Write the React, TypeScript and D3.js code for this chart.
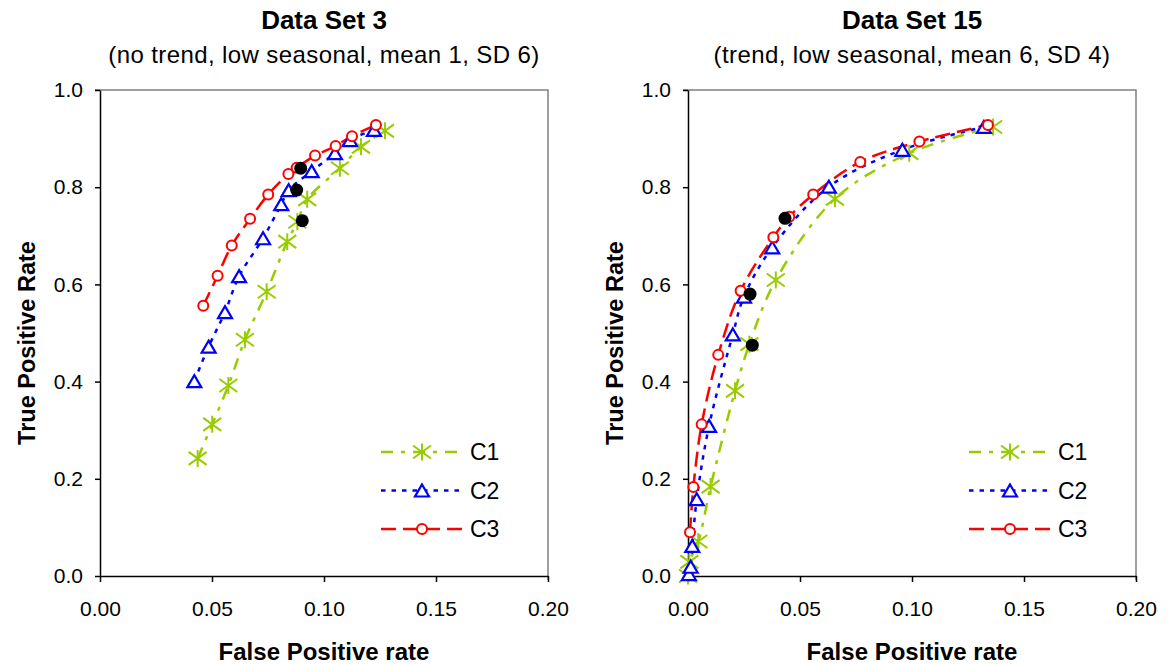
import { useEffect, useRef } from 'react'
import * as d3 from 'd3'

// ROC curves (false positive rate vs true positive rate), two data sets, three classifiers
const X_TICKS = [0, 0.05, 0.1, 0.15, 0.2]
const Y_TICKS = [0, 0.2, 0.4, 0.6, 0.8, 1.0]
const SERIES_NAMES = ['C1', 'C2', 'C3']

type Pt = [number, number]

// Data Set 3
const DS3_C1: Pt[] = [
  [0.0436, 0.242], [0.0501, 0.312], [0.0573, 0.392], [0.0647, 0.486], [0.0744, 0.585],
  [0.0836, 0.688], [0.0881, 0.729], [0.0925, 0.775], [0.1071, 0.839], [0.1165, 0.883], [0.1272, 0.916],
]
const DS3_C2: Pt[] = [
  [0.0421, 0.401], [0.0485, 0.472], [0.0558, 0.543], [0.0621, 0.617], [0.0728, 0.695],
  [0.0809, 0.765], [0.0842, 0.794], [0.0945, 0.833], [0.1049, 0.870], [0.1116, 0.897], [0.1223, 0.918],
]
const DS3_C3: Pt[] = [
  [0.0461, 0.556], [0.0525, 0.618], [0.0588, 0.680], [0.0670, 0.735], [0.0751, 0.785],
  [0.0841, 0.827], [0.0878, 0.840], [0.0960, 0.865], [0.1052, 0.885], [0.1125, 0.905], [0.1232, 0.928],
]
const DS3_BEST: Pt[] = [[0.0896, 0.839], [0.0878, 0.794], [0.0903, 0.731]]

// Data Set 15
const DS15_C1: Pt[] = [
  [0.0, 0.0], [0.0006, 0.029], [0.0046, 0.071], [0.0101, 0.184], [0.0210, 0.381],
  [0.0274, 0.477], [0.0392, 0.609], [0.0656, 0.776], [0.0988, 0.870], [0.1362, 0.924],
]
const DS15_C2: Pt[] = [
  [0.0004, 0.004], [0.0012, 0.019], [0.0019, 0.062], [0.0039, 0.158], [0.0094, 0.309],
  [0.0200, 0.497], [0.0250, 0.575], [0.0376, 0.676], [0.0629, 0.801], [0.0957, 0.877], [0.1321, 0.924],
]
const DS15_C3: Pt[] = [
  [0.0009, 0.090], [0.0024, 0.183], [0.0061, 0.312], [0.0135, 0.455], [0.0235, 0.587],
  [0.0381, 0.697], [0.0452, 0.739], [0.0559, 0.785], [0.0769, 0.852], [0.1033, 0.894], [0.1339, 0.928],
]
const DS15_BEST: Pt[] = [[0.0287, 0.475], [0.0277, 0.580], [0.0433, 0.736]]

const PANELS = [
  {
    title: 'Data Set 3',
    subtitle: '(no trend, low seasonal, mean 1, SD 6)',
    series: [DS3_C1, DS3_C2, DS3_C3],
    best: DS3_BEST,
    left: 100,
  },
  {
    title: 'Data Set 15',
    subtitle: '(trend, low seasonal, mean 6, SD 4)',
    series: [DS15_C1, DS15_C2, DS15_C3],
    best: DS15_BEST,
    left: 688,
  },
]

const STYLES = [
  { color: '#99cc00', dash: '12,8,4,8', marker: 'star' },
  { color: '#0000ff', dash: '4.5,6', marker: 'tri' },
  { color: '#ff0000', dash: '15,7', marker: 'circle' },
]

const FONT = 'Arial, "Liberation Sans", Helvetica, sans-serif'
const W = 1168, H = 664
const TOP = 90, BOTTOM = 576, PW = 448

function drawMarker(g: any, kind: string, color: string, cx: number, cy: number) {
  if (kind === 'star') {
    g.append('path')
      .attr('d', `M${cx},${cy - 8.5}V${cy + 8.5}M${cx - 9},${cy - 6.5}L${cx + 9},${cy + 6.5}M${cx - 9},${cy + 6.5}L${cx + 9},${cy - 6.5}`)
      .attr('stroke', color).attr('stroke-width', 2).attr('fill', 'none')
  } else if (kind === 'tri') {
    g.append('path')
      .attr('d', `M${cx},${cy - 6}L${cx + 7},${cy + 6}L${cx - 7},${cy + 6}Z`)
      .attr('stroke', color).attr('stroke-width', 2.2).attr('fill', '#fff')
  } else {
    g.append('circle').attr('cx', cx).attr('cy', cy).attr('r', 5)
      .attr('stroke', color).attr('stroke-width', 2).attr('fill', '#fff')
  }
}

export default function App() {
  const ref = useRef<SVGSVGElement>(null)

  useEffect(() => {
    const svg = d3.select(ref.current)
    svg.selectAll('*').remove()

    PANELS.forEach(p => {
      const x = d3.scaleLinear().domain([0, 0.2]).range([p.left, p.left + PW])
      const y = d3.scaleLinear().domain([0, 1]).range([BOTTOM, TOP])
      const cx = p.left + PW / 2
      const g = svg.append('g')

      g.append('text').attr('x', cx).attr('y', 29).attr('text-anchor', 'middle')
        .attr('font-family', FONT).attr('font-weight', 700).attr('font-size', 26).text(p.title)
      g.append('text').attr('x', cx).attr('y', 63).attr('text-anchor', 'middle')
        .attr('font-family', FONT).attr('font-size', 24).attr('letter-spacing', 0.4).text(p.subtitle)

      // gray frame on top / right
      g.append('path')
        .attr('d', `M${p.left - 5},${TOP}H${p.left + PW}V${BOTTOM + 4}`)
        .attr('stroke', '#808080').attr('stroke-width', 1.5).attr('fill', 'none')

      const styleAxis = (s: any) => {
        s.selectAll('text').attr('font-family', FONT).attr('font-size', 21).attr('fill', '#000')
        s.selectAll('line,path').attr('stroke', '#000').attr('stroke-width', 1.5)
      }
      g.append('g').attr('transform', `translate(0,${BOTTOM})`)
        .call(d3.axisBottom(x).tickValues(X_TICKS).tickFormat(d3.format('.2f')).tickSize(6).tickPadding(19).tickSizeOuter(0))
        .call(styleAxis)
      g.append('g').attr('transform', `translate(${p.left},0)`)
        .call(d3.axisLeft(y).tickValues(Y_TICKS).tickFormat(d3.format('.1f')).tickSize(5).tickPadding(12).tickSizeOuter(0))
        .call(styleAxis)

      g.append('text').attr('x', cx).attr('y', 660).attr('text-anchor', 'middle')
        .attr('font-family', FONT).attr('font-weight', 700).attr('font-size', 24).text('False Positive rate')
      g.append('text').attr('transform', `translate(${p.left - 65},${(TOP + BOTTOM) / 2 + 10}) rotate(-90)`)
        .attr('text-anchor', 'middle')
        .attr('font-family', FONT).attr('font-weight', 700).attr('font-size', 23.5).text('True Positive Rate')

      const line = d3.line<Pt>().x(d => x(d[0])).y(d => y(d[1])).curve(d3.curveCatmullRom.alpha(0.5))

      p.series.forEach((data, si) => {
        const st = STYLES[si]
        g.append('path').datum(data).attr('d', line)
          .attr('fill', 'none').attr('stroke', st.color).attr('stroke-width', 2.5)
          .attr('stroke-dasharray', st.dash)
      })
      p.series.forEach((data, si) => {
        const st = STYLES[si]
        data.forEach(d => drawMarker(g, st.marker, st.color, x(d[0]), y(d[1])))
      })
      p.best.forEach(d => {
        g.append('circle').attr('cx', x(d[0])).attr('cy', y(d[1])).attr('r', 6.5).attr('fill', '#000')
      })

      // legend
      const lx = p.left + 281
      SERIES_NAMES.forEach((name, si) => {
        const st = STYLES[si]
        const ly = 452 + si * 38.5
        g.append('line').attr('x1', lx).attr('x2', lx + 83).attr('y1', ly).attr('y2', ly)
          .attr('stroke', st.color).attr('stroke-width', 2.5).attr('stroke-dasharray', st.dash)
        drawMarker(g, st.marker, st.color, lx + 41, ly)
        g.append('text').attr('x', lx + 89).attr('y', ly + 8)
          .attr('font-family', FONT).attr('font-size', 23).text(name)
      })
    })
  }, [])

  return (
    <svg ref={ref} width={W} height={H} viewBox={`0 0 ${W} ${H}`}
      style={{ position: 'absolute', left: 0, top: 0, background: '#fff' }} />
  )
}
